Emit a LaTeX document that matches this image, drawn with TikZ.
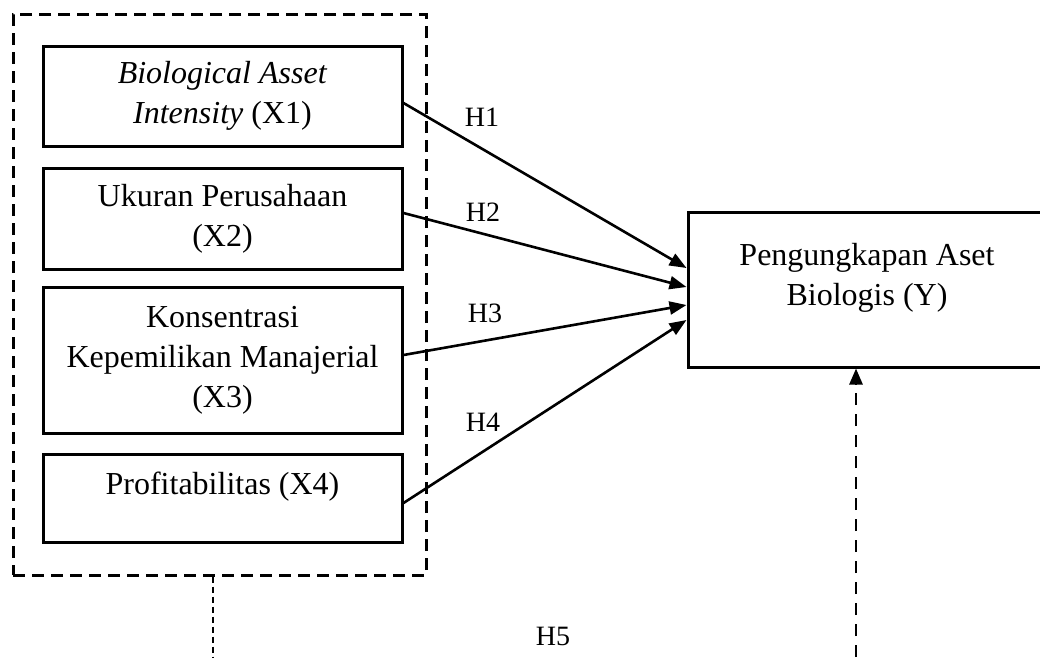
\documentclass[tikz,border=0pt]{standalone}
\usepackage{fontspec}
\setmainfont{Liberation Serif}
\usetikzlibrary{arrows.meta}
\begin{document}
\begin{tikzpicture}[x=1pt,y=-1pt,
  txt/.style={font=\fontsize{32}{40}\selectfont},
  varbox/.style={draw,line width=3pt,minimum width=359pt,inner sep=0pt,align=center,txt},
  hlabel/.style={font=\fontsize{28}{32}\selectfont,inner sep=0pt},
  conn/.style={line width=2.6pt,-{Triangle[length=17pt,width=13pt]}}]
\useasboundingbox (0,0) rectangle (1040,657);
% group box
\node[draw,line width=3pt,dash pattern=on 12pt off 7pt,minimum width=413pt,minimum height=561pt,inner sep=0pt] (grp) at (219.5,294.5) {};
% variable boxes
\node[varbox,minimum height=100pt] (x1) at (222.5,96) {\textit{Biological Asset}\\\textit{Intensity} (X1)};
\node[varbox,minimum height=101pt] (x2) at (222.5,218.5) {Ukuran Perusahaan\\(X2)};
\node[varbox,minimum height=146pt] (x3) at (222.5,360) {Konsentrasi\\Kepemilikan Manajerial\\(X3)};
\node[varbox,minimum height=88pt] (x4) at (222.5,498) {};
\node[inner sep=0pt,txt] (x4t) at (222.5,487) {Profitabilitas (X4)};
% dependent box
\node[draw,line width=3pt,minimum width=358pt,minimum height=155pt,inner sep=0pt] (y) at (867,289.5) {};
\node[inner sep=0pt,align=center,txt] (yt) at (867,278) {Pengungkapan Aset\\Biologis (Y)};
% connectors
\draw[conn] ([yshift=-7pt]x1.east) -- ([yshift=21.5pt]y.west);
\draw[conn] ([yshift=5.5pt]x2.east) -- ([yshift=2.5pt]y.west);
\draw[conn] ([yshift=5pt]x3.east) -- ([yshift=-15.5pt]y.west);
\draw[conn] ([yshift=-5pt]x4.east) -- ([yshift=-30.5pt]y.west);
% labels
\node[hlabel] (h1) at (482,117) {H1};
\node[hlabel] (h2) at (483,212) {H2};
\node[hlabel] (h3) at (485,313) {H3};
\node[hlabel] (h4) at (483,422) {H4};
\node[hlabel] (h5) at (553,636) {H5};
% moderation lines
\coordinate (dl) at (213,657);
\coordinate (dr) at (856,657);
\draw[line width=1.4pt,dash pattern=on 6pt off 4pt] ([xshift=-6.5pt]grp.south) -- (dl);
\draw[line width=2.6pt,dash pattern=on 12pt off 9pt,-{Triangle[length=16pt,width=13pt]}] (dr) -- ([xshift=-11pt]y.south);
\end{tikzpicture}
\end{document}
